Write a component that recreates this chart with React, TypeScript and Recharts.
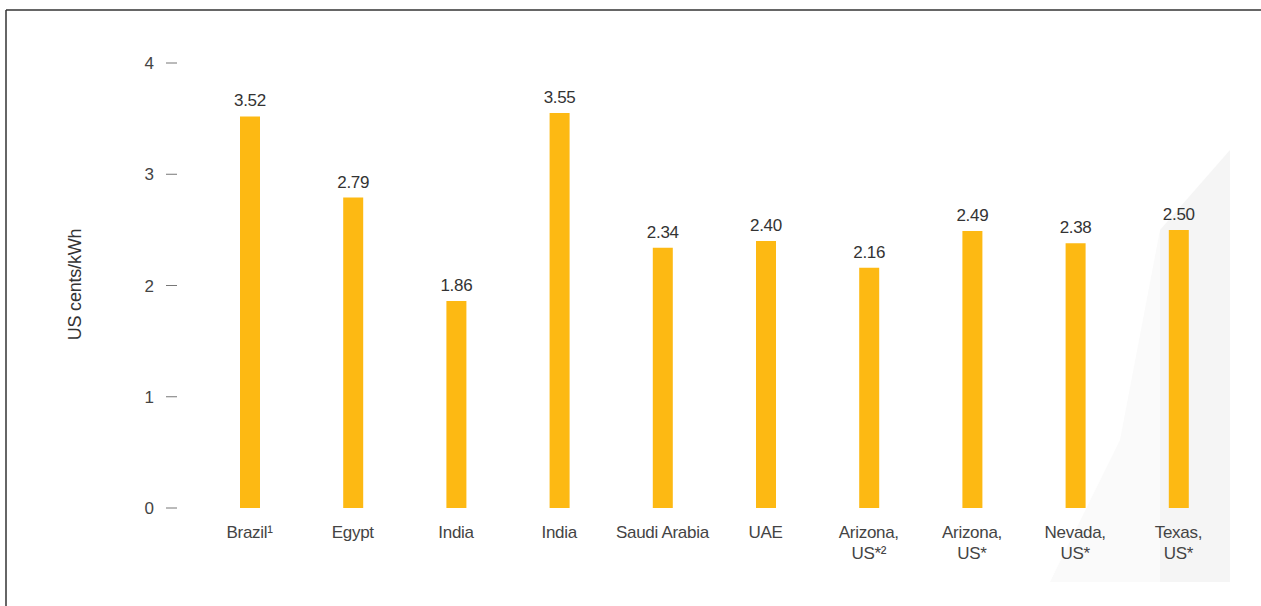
import React from "react";
import { BarChart, Bar, XAxis, YAxis, LabelList } from "recharts";

const categories = [
  "Brazil¹",
  "Egypt",
  "India",
  "India",
  "Saudi Arabia",
  "UAE",
  "Arizona,|US*²",
  "Arizona,|US*",
  "Nevada,|US*",
  "Texas,|US*",
];
const values = [3.52, 2.79, 1.86, 3.55, 2.34, 2.4, 2.16, 2.49, 2.38, 2.5];
const yTicks = [0, 1, 2, 3, 4];

const data = categories.map((c, i) => ({ key: i, name: c, value: values[i] }));

const FONT = "'Liberation Sans', Arial, sans-serif";

const CategoryTick = (props: any) => {
  const { x, y, payload } = props;
  const idx = payload.value as number;
  const lines = categories[idx].split("|");
  return (
    <text
      x={x}
      y={y}
      textAnchor="middle"
      fontFamily={FONT}
      fontSize={17}
      letterSpacing={-0.3}
      fill="#444"
    >
      {lines.map((l, i) => (
        <tspan key={i} x={x} dy={i === 0 ? 22 : 21}>
          {l}
        </tspan>
      ))}
    </text>
  );
};

const YLabel = (props: any) => {
  const vb = props.viewBox || { x: 0, y: 0, height: 0 };
  const cx = 75;
  const cy = vb.y + vb.height / 2 - 1;
  return (
    <text
      x={cx}
      y={cy}
      transform={`rotate(-90 ${cx} ${cy})`}
      textAnchor="middle"
      dominantBaseline="central"
      fontFamily={FONT}
      fontSize={18}
      letterSpacing={-0.2}
      fill="#333"
    >
      US cents/kWh
    </text>
  );
};

export default function App() {
  return (
    <div
      style={{
        position: "absolute",
        left: 0,
        top: 0,
        width: 1261,
        height: 606,
        background: "#fff",
        overflow: "hidden",
      }}
    >
      <svg
        width={1261}
        height={606}
        style={{ position: "absolute", left: 0, top: 0 }}
      >
        <polygon points="1120,440 1160,230 1160,582 1050,582" fill="#fafafa" />
        <polygon points="1160,230 1230,150 1230,582 1160,582" fill="#f5f5f5" />
        <line x1={6} y1={10} x2={1261} y2={10} stroke="#333" strokeWidth={1.5} />
        <line x1={6} y1={10} x2={6} y2={606} stroke="#333" strokeWidth={1.5} />
      </svg>
      <div style={{ position: "absolute", left: 0, top: 0 }}>
        <BarChart
          width={1261}
          height={606}
          data={data}
          margin={{ top: 63, right: 31, bottom: 0, left: 0 }}
          barSize={20}
        >
          <XAxis
            dataKey="key"
            type="category"
            axisLine={false}
            tickLine={false}
            interval={0}
            padding={{ left: 21, right: 0 }}
            tick={<CategoryTick />}
            height={98}
          />
          <YAxis
            width={177}
            domain={[0, 4]}
            ticks={yTicks}
            axisLine={false}
            tickSize={11}
            tickMargin={12}
            tickLine={{ stroke: "#777", strokeWidth: 1 }}
            tick={{ fontFamily: FONT, fontSize: 17, fill: "#444" }}
            label={<YLabel />}
          />
          <Bar dataKey="value" fill="#FDB913" isAnimationActive={false}>
            <LabelList
              dataKey="value"
              position="top"
              offset={10}
              formatter={(v: any) => Number(v).toFixed(2)}
              style={{ fontFamily: FONT, fontSize: 17, fill: "#333", letterSpacing: -0.3 }}
            />
          </Bar>
        </BarChart>
      </div>
    </div>
  );
}
